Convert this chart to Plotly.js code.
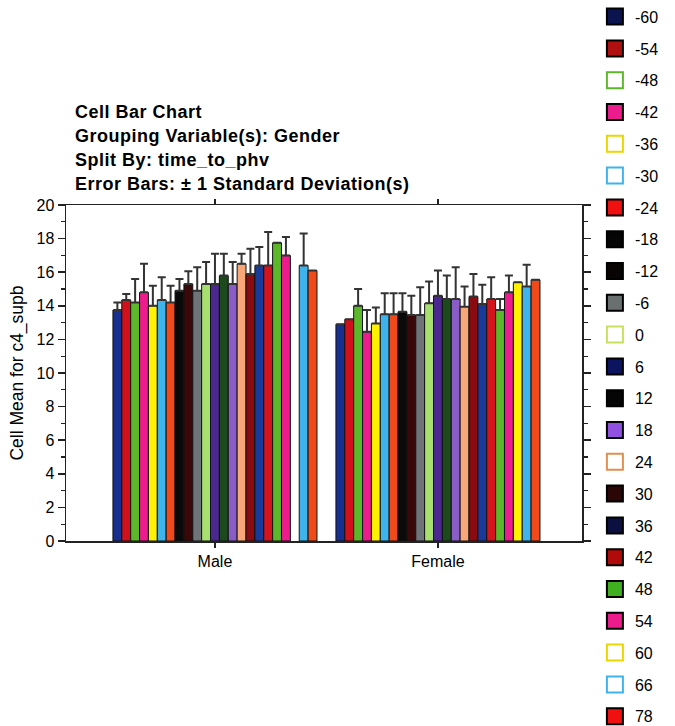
<!DOCTYPE html>
<html>
<head>
<meta charset="utf-8">
<script src="https://cdn.plot.ly/plotly-3.0.1.min.js"></script>
<style>
html,body{margin:0;padding:0;background:#fff;}
#chart{width:675px;height:726px;}
.annotation-text{letter-spacing:0.5px;}
</style>
</head>
<body>
<div id="chart"></div>
<script>
const groups = ["Male", "Female"];
const series = ["-60","-54","-48","-42","-36","-30","-24","-18","-12","-6","0","6","12","18","24","30","36","42","48","54","60","66","78"];
const maleMean = [13.75,14.35,14.2,14.8,14.0,14.35,14.2,14.9,15.3,14.9,15.3,15.3,15.8,15.3,16.5,15.9,16.4,16.4,17.75,17.0,null,16.4,16.1];
const maleSD   = [0.45,0.35,1.4,1.7,1.2,1.35,1.0,0.7,0.75,1.4,1.3,1.8,1.3,1.3,0.6,1.5,1.1,2.0,null,1.1,null,1.9,null];
const femaleMean = [12.9,13.2,14.0,12.45,12.95,13.5,13.5,13.65,13.45,13.45,14.15,14.6,14.4,14.4,13.95,14.55,14.1,14.4,13.75,14.8,15.4,15.15,15.55];
const femaleSD   = [null,null,1.0,1.3,0.95,1.25,1.25,1.1,1.15,1.65,1.3,1.5,1.4,1.9,1.2,1.35,1.15,1.3,0.65,1.0,null,1.3,null];
const titleLines = ["Cell Bar Chart","Grouping Variable(s): Gender","Split By: time_to_phv","Error Bars: \u00b1 1 Standard Deviation(s)"];

const barColors = ["#17308f","#d0101a","#5cb82a","#ec1c8c","#fff200","#3fb4ec","#f04a1a","#0a0a0a","#3a0808","#6e7478","#a8e070","#4a2890","#1c4a1c","#8a5cc8","#f8a878","#8a0c10","#1a3a9a","#d4141c","#5cb82a","#ec1c8c","#fff200","#3fb4ec","#f04a1a"];
const legendFill = ["#0c1450","#b01010","#ffffff","#ec1c8c","#ffffff","#ffffff","#f01010","#050505","#080404","#6a7070","#ffffff","#0c1460","#050505","#9050e0","#ffffff","#2a0606","#0c1040","#b00a0a","#40b020","#ec1c8c","#ffffff","#ffffff","#f01010"];
const legendLine = ["#000000","#000000","#5cb82a","#000000","#e8d800","#3fb4ec","#000000","#000000","#000000","#000000","#c8e060","#000000","#000000","#000000","#e09050","#000000","#000000","#000000","#000000","#000000","#e8d800","#3fb4ec","#000000"];

const traces = [];
series.forEach((s, i) => {
  const sd = [maleSD[i], femaleSD[i]];
  traces.push({
    type: 'bar', name: s, x: groups, y: [maleMean[i], femaleMean[i]],
    marker: {color: barColors[i], line: {color: '#111', width: 1}},
    error_y: {type: 'data', symmetric: false, array: sd.map(v => v == null ? NaN : v), arrayminus: [0, 0],
              color: '#333333', thickness: 2, width: 4},
    showlegend: false, hoverinfo: 'none'
  });
});
series.forEach((s, i) => {
  traces.push({
    type: 'scatter', mode: 'markers', name: s, x: [null], y: [null], legendgroup: 'g' + i,
    marker: {symbol: 'square', size: 16, color: legendFill[i], line: {color: legendLine[i], width: 2}},
    showlegend: true
  });
});

const annotations = titleLines.map((t, k) => ({
  text: t, xref: 'paper', yref: 'paper', x: 0.0135, y: [1.277, 1.204, 1.134, 1.0625][k],
  xanchor: 'left', yanchor: 'middle', showarrow: false,
  font: {family: 'Liberation Sans, Arial, sans-serif', size: 18, color: '#000', weight: 'bold'}
}));

const layout = {
  width: 675, height: 726,
  margin: {l: 66, r: 93, t: 205, b: 185, autoexpand: false},
  paper_bgcolor: '#fff', plot_bgcolor: '#fff',
  barmode: 'group', bargap: 0.085, bargroupgap: 0,
  font: {family: 'Liberation Sans, Arial, sans-serif', color: '#000'},
  xaxis: {
    type: 'category', range: [-0.668, 1.646], showgrid: false,
    showline: true, linecolor: '#222', linewidth: 1.5, mirror: 'ticks',
    ticks: 'outside', ticklen: 5, tickwidth: 1.5, tickcolor: '#222',
    tickfont: {size: 16, color: '#000'}
  },
  yaxis: {
    range: [0, 20], dtick: 2, showgrid: false, zeroline: false,
    showline: true, linecolor: '#222', linewidth: 1.5, mirror: 'ticks',
    ticks: 'outside', ticklen: 7, tickwidth: 1.5, tickcolor: '#222',
    minor: {dtick: 1, ticks: 'outside', ticklen: 4, tickcolor: '#222', tickwidth: 1.2},
    tickfont: {size: 16, color: '#000'},
    title: {text: 'Cell Mean for c4_supb', font: {size: 17.5, color: '#000'}, standoff: 8}
  },
  legend: {
    x: 1.025, xanchor: 'left', y: 1.611, yanchor: 'top',
    font: {size: 16, color: '#000'}, tracegroupgap: 8,
    bgcolor: 'rgba(0,0,0,0)', itemwidth: 30, maxheight: 2000
  },
  annotations: annotations
};

Plotly.newPlot('chart', traces, layout, {displayModeBar: false, staticPlot: true});
</script>
</body>
</html>
